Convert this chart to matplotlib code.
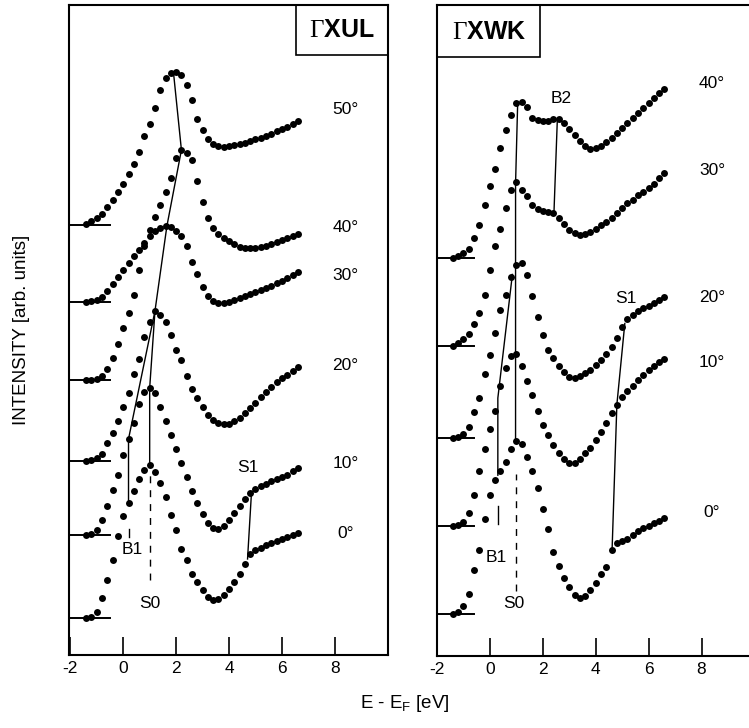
import matplotlib
matplotlib.use('Agg')
import matplotlib.pyplot as plt
from matplotlib.patches import Rectangle
import numpy as np

plt.rcParams['font.family'] = ['Liberation Sans', 'DejaVu Sans']
plt.rcParams['mathtext.fontset'] = 'custom'
plt.rcParams['mathtext.rm'] = 'Liberation Serif'
plt.rcParams['mathtext.sf'] = 'Liberation Sans'
plt.rcParams['axes.unicode_minus'] = False

# energy grid of the spectra (eV), 0.2 eV steps
E_START, E_STEP, N_PTS = -1.4, 0.2, 41
energy = E_START + E_STEP * np.arange(N_PTS)

# ---------- Gamma-X-U-L panel (intensity above each curve's baseline) ----------
angles_xul = ['50°', '40°', '30°', '20°', '10°', '0°']
offsets_xul = [430, 275, 353, 194, 120, 37]
xul_50 = [1, 4, 7, 11, 18, 25, 33, 41, 51, 61, 73, 89, 101, 117, 135, 147, 152, 153, 150, 140, 125,
          106, 95, 86, 81, 79, 78, 79, 80, 81, 82, 84, 86, 87, 89, 91, 94, 96, 98, 101, 104]
xul_40 = [0, 0, 1, 4, 11, 22, 36, 52, 67, 85, 110, 134, 150, 163, 175, 188, 202, 222, 230, 227, 220,
          199, 178, 162, 152, 146, 142, 139, 136, 133, 132, 132, 132, 133, 134, 136, 138, 140, 142, 144, 146]
xul_30 = [0, 1, 2, 5, 11, 18, 25, 32, 39, 46, 52, 59, 66, 71, 74, 76, 75, 71, 66, 56, 40,
          28, 15, 6, 1, -1, -1, 0, 2, 4, 6, 8, 10, 12, 14, 16, 19, 21, 24, 27, 30]
xul_20 = [0, 1, 3, 7, 18, 28, 40, 54, 68, 87, 102, 124, 139, 150, 146, 139, 126, 111, 101, 85, 72,
          63, 54, 46, 41, 38, 37, 37, 40, 43, 48, 53, 58, 64, 69, 74, 79, 83, 86, 90, 94]
xul_10 = [0, 1, 5, 15, 29, 45, 60, 80, 96, 112, 131, 143, 147, 142, 128, 114, 100, 86, 72, 58, 44,
          32, 21, 12, 7, 6, 9, 15, 22, 29, 36, 42, 46, 49, 51, 54, 56, 58, 60, 64, 67]
xul_0 = [0, 1, 6, 20, 38, 58, 82, 102, 115, 127, 139, 148, 153, 146, 135, 121, 103, 88, 69, 58, 44,
         36, 28, 21, 18, 19, 23, 29, 36, 44, 54, 64, 68, 70, 73, 75, 77, 79, 81, 83, 85]
curves_xul = [xul_50, xul_40, xul_30, xul_20, xul_10, xul_0]
label_y_xul = [545, 427, 380, 290, 192, 122]

# feature energies (eV) per curve index
s0_xul = [(0, 1.9), (1, 2.2), (2, 1.65), (3, 1.2), (4, 1.0), (5, 1.0)]
b1_xul = [(3, 1.2), (4, 0.2), (5, 0.2)]
s1_xul = [(4, 4.85), (5, 4.7)]

# ---------- Gamma-X-W-K panel ----------
angles_xwk = ['40°', '30°', '20°', '10°', '0°']
offsets_xwk = [397, 310, 218, 130, 42]
xwk_40 = [0, 2, 5, 9, 20, 33, 53, 72, 89, 110, 128, 143, 155, 156, 151, 140, 138, 137, 137, 139, 139,
          135, 129, 123, 117, 112, 109, 110, 112, 116, 120, 125, 130, 135, 140, 145, 150, 155, 160, 165, 169]
xwk_30 = [0, 3, 7, 12, 21, 32, 50, 75, 99, 116, 137, 155, 163, 155, 149, 140, 136, 134, 133, 132, 127,
          121, 115, 112, 110, 111, 113, 116, 120, 123, 127, 132, 137, 142, 145, 150, 153, 157, 161, 167, 172]
xwk_20 = [0, 1, 4, 11, 26, 40, 64, 83, 105, 127, 142, 160, 172, 174, 162, 141, 120, 103, 88, 80, 72,
          66, 61, 60, 62, 65, 68, 73, 78, 84, 91, 100, 110, 118, 122, 126, 129, 131, 134, 137, 140]
xwk_10 = [0, 1, 4, 13, 31, 55, 77, 97, 115, 140, 158, 170, 172, 160, 145, 131, 115, 101, 91, 81, 73,
          67, 63, 63, 67, 73, 78, 86, 94, 103, 113, 121, 129, 135, 140, 146, 151, 156, 160, 164, 167]
xwk_0 = [0, 2, 8, 20, 44, 64, 95, 119, 134, 143, 152, 165, 173, 170, 157, 143, 126, 105, 85, 62, 48,
         36, 27, 19, 16, 18, 24, 31, 40, 47, 64, 71, 73, 75, 79, 83, 86, 88, 91, 93, 96]
curves_xwk = [xwk_40, xwk_30, xwk_20, xwk_10, xwk_0]
label_y_xwk = [572, 485, 358, 293, 143]

s0_xwk = [(0, 1.05), (1, 0.97), (2, 0.97), (3, 0.97), (4, 0.97)]
b1_xwk = [(2, 0.85), (3, 0.3), (4, 0.3)]
b2_xwk = [(0, 2.55), (1, 2.42)]
s1_xwk = [(2, 5.1), (3, 4.8), (4, 4.62)]


def curve_y(curves, offsets, idx, e):
    return offsets[idx] + np.interp(e, energy, curves[idx])


def feature_line(ax, curves, offsets, feats):
    xs = [e for _, e in feats]
    ys = [curve_y(curves, offsets, i, e) for i, e in feats]
    ax.plot(xs, ys, color='black', lw=1.0)


def draw_panel(ax, curves, offsets, angles, label_y, base_end):
    for c, off, ang, ly in zip(curves, offsets, angles, label_y):
        ax.plot([-2.2, base_end], [off, off], color='black', lw=1.4)
        ax.plot(energy, off + np.array(c), 'o', color='black', ms=5, mew=0)
        ax.text(8.4, ly, ang, fontsize=12.5, ha='center', va='center')
    ax.set_ylim(0, 650)
    ax.set_yticks([])
    ax.set_xticks([-2, 0, 2, 4, 6, 8])
    ax.tick_params(axis='x', direction='in', length=13, width=1.2, labelsize=12.5, pad=4)
    for s in ax.spines.values():
        s.set_linewidth(1.5)


fig = plt.figure(figsize=(7.49, 7.28), dpi=100)
ax1 = fig.add_axes([69 / 749, 73 / 728, 319 / 749, 650 / 728])
ax2 = fig.add_axes([437 / 749, 72 / 728, 319 / 749, 651 / 728])

# left panel
draw_panel(ax1, curves_xul, offsets_xul, angles_xul, label_y_xul, -0.5)
ax1.set_xlim(-2.05, 10.01)
feature_line(ax1, curves_xul, offsets_xul, s0_xul)
feature_line(ax1, curves_xul, offsets_xul, b1_xul)
feature_line(ax1, curves_xul, offsets_xul, s1_xul)
ax1.plot([1.0, 1.0], [75, 182], color='black', lw=1.0, dashes=(5, 5))
ax1.plot([0.2, 0.2], [118, 126], color='black', lw=1.0)
ax1.text(4.73, 187, 'S1', fontsize=12.5, ha='center', va='center')
ax1.text(0.34, 105, 'B1', fontsize=12.5, ha='center', va='center')
ax1.text(1.02, 52, 'S0', fontsize=12.5, ha='center', va='center')
ax1.add_patch(Rectangle((0.711, 0.923), 0.289, 0.077, transform=ax1.transAxes,
                        fill=False, lw=1.2, color='black'))
ax1.text(0.855, 0.962, r'$\mathrm{\Gamma}$XUL', transform=ax1.transAxes, fontsize=18,
         fontweight='bold', ha='center', va='center')

# right panel
draw_panel(ax2, curves_xwk, offsets_xwk, angles_xwk, label_y_xwk, -0.6)
ax2.set_xlim(-2.0, 10.06)
feature_line(ax2, curves_xwk, offsets_xwk, s0_xwk)
feature_line(ax2, curves_xwk, offsets_xwk, b1_xwk)
feature_line(ax2, curves_xwk, offsets_xwk, b2_xwk)
feature_line(ax2, curves_xwk, offsets_xwk, s1_xwk)
ax2.plot([0.97, 0.97], [65, 182], color='black', lw=1.0, dashes=(5, 5))
ax2.plot([0.3, 0.3], [132, 150], color='black', lw=1.0)
ax2.text(5.13, 357, 'S1', fontsize=12.5, ha='center', va='center')
ax2.text(2.68, 557, 'B2', fontsize=12.5, ha='center', va='center')
ax2.text(0.23, 98, 'B1', fontsize=12.5, ha='center', va='center')
ax2.text(0.9, 52, 'S0', fontsize=12.5, ha='center', va='center')
ax2.add_patch(Rectangle((0.0, 0.92), 0.323, 0.08, transform=ax2.transAxes,
                        fill=False, lw=1.2, color='black'))
ax2.text(0.165, 0.958, r'$\mathrm{\Gamma}$XWK', transform=ax2.transAxes, fontsize=18,
         fontweight='bold', ha='center', va='center')

fig.text(0.029, 0.547, 'INTENSITY [arb. units]', rotation=90, fontsize=13.5,
         ha='center', va='center')
fig.text(0.54, 0.034, r'E - E$_\mathsf{F}$ [eV]', fontsize=13.5, ha='center', va='center')

fig.savefig('out.png', dpi=100)
